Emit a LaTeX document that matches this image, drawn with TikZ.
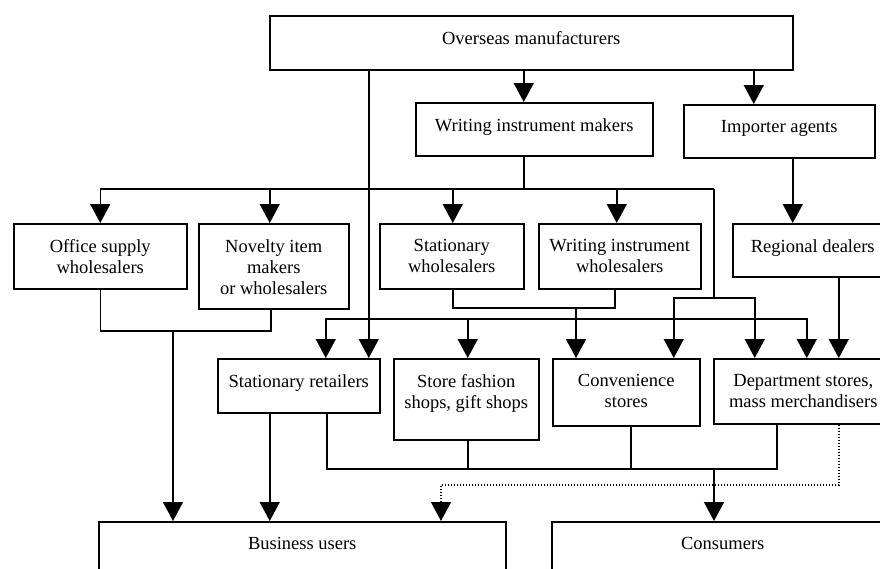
\documentclass[tikz,border=0pt]{standalone}
\usepackage{fontspec}
\setmainfont{Liberation Serif}
\usetikzlibrary{arrows.meta}

% box text: width, height, lines (set from the top of the box)
\newcommand{\boxtext}[3]{\parbox[t][#2pt][t]{#1pt}{\centering\vspace*{15.5pt}#3}}

\tikzset{
  box/.style={draw, line width=1.5pt, inner sep=0pt, anchor=north west,
              font=\fontsize{18.5}{21}\selectfont},
  wire/.style={line width=1.5pt},
  arr/.style={line width=1.5pt, -{Triangle[width=20pt,length=19pt]}},
  dotwire/.style={line width=1.5pt, dash pattern=on 1.5pt off 1.5pt,
                  -{Triangle[width=20pt,length=19pt]}}
}

\begin{document}
\begin{tikzpicture}[x=1pt,y=1pt,yscale=-1,xscale=1]
				\useasboundingbox (0,0) rectangle (880,568);
				\clip (0,0) rectangle (880,568);

				% Boxes
				\node[box] (over) at (269,15) {\boxtext{523}{54}{Overseas manufacturers}};
				\node[box] (wim) at (415,102) {\boxtext{237}{53}{Writing instrument makers}};
				\node[box] (imp) at (683,104) {\boxtext{191}{53}{Importer agents}};
				\node[box] (off) at (13,223) {\boxtext{173}{65}{Office supply\\wholesalers}};
				\node[box] (nov) at (198,223) {\boxtext{150}{85}{Novelty item\\makers\\or wholesalers}};
				\node[box] (swh) at (379,223) {\boxtext{144}{65}{Stationary\\wholesalers}};
				\node[box] (wiw) at (538,223) {\boxtext{162}{65}{Writing instrument\\wholesalers}};
				\node[box] (reg) at (732,223) {\boxtext{160}{53}{Regional dealers}};
				\node[box] (sr) at (217,358) {\boxtext{162}{54}{Stationary retailers}};
				\node[box] (sf) at (393,358) {\boxtext{145}{81}{Store fashion\\shops, gift shops}};
				\node[box] (cs) at (552,358) {\boxtext{147}{67}{Convenience\\stores}};
				\node[box] (ds) at (713,358) {\boxtext{179}{65}{Department stores,\\mass merchandisers}};
				\node[box] (bu) at (98,521) {\boxtext{407}{80}{Business users}};
				\node[box] (con) at (551,521) {\boxtext{342}{80}{Consumers}};

				% Junctions
				\coordinate (j1) at (714,189);
				\coordinate (j2) at (714,298);
				\coordinate (j3) at (173,331);
				\coordinate (j4) at (576,308);
				\coordinate (j5) at (576,319);
				\coordinate (j6) at (714,469);
				\coordinate (j7) at (441,485);

				% From overseas manufacturers
				\draw[arr] ([xshift=-10.5pt]wim.north |- over.south) -- ([xshift=-10.5pt]wim.north);
				\draw[arr] ([xshift=-25.5pt]imp.north |- over.south) -- ([xshift=-25.5pt]imp.north);
				\draw[arr] ([xshift=70pt]sr.north |- over.south) -- ([xshift=70pt]sr.north);
				\draw[arr] ([xshift=13.5pt]imp.south) -- ([xshift=13.5pt]imp.south |- reg.north);
				\draw[arr] ([xshift=26pt]reg.south) -- ([xshift=26pt]reg.south |- ds.north);

				% From writing instrument makers
				\draw[wire] ([xshift=-10.5pt]wim.south) -- ([xshift=-10.5pt]wim.south |- j1);
				\draw[arr] (j1) -| (off.north);
				\draw[arr] ([xshift=-4pt]nov.north |- j1) -- ([xshift=-4pt]nov.north);
				\draw[arr] ([xshift=1pt]swh.north |- j1) -- ([xshift=1pt]swh.north);
				\draw[arr] ([xshift=-3pt]wiw.north |- j1) -- ([xshift=-3pt]wiw.north);
				\draw[arr] (j1) -- (j2) -| ([xshift=47.5pt]cs.north);
				\draw[arr] (j2) -| ([xshift=-48.5pt]ds.north);

				% From wholesalers
				\draw[wire] (off.south) |- ([xshift=-3pt]nov.south |- j3) -- ([xshift=-3pt]nov.south);
				\draw[arr] (j3) -- (j3 |- bu.north);
				\draw[wire] ([xshift=1pt]swh.south) |- ([xshift=-5pt]wiw.south |- j4) -- ([xshift=-5pt]wiw.south);
				\draw[arr] (j4) -- (j4 |- cs.north);
				\draw[arr] (j5) -| ([xshift=27pt]sr.north);
				\draw[arr] ([xshift=1.5pt]sf.north |- j5) -- ([xshift=1.5pt]sf.north);
				\draw[arr] (j5) -| ([xshift=3.5pt]ds.north);

				% From retailers
				\draw[arr] ([xshift=-29pt]sr.south) -- ([xshift=-29pt]sr.south |- bu.north);
				\draw[wire] ([xshift=28pt]sr.south) |- ([xshift=-26.5pt]ds.south |- j6) -- ([xshift=-26.5pt]ds.south);
				\draw[wire] ([xshift=1.5pt]sf.south) -- ([xshift=1.5pt]sf.south |- j6);
				\draw[wire] ([xshift=4.5pt]cs.south) -- ([xshift=4.5pt]cs.south |- j6);
				\draw[arr] (j6) -- (j6 |- con.north);
				\draw[dotwire] ([xshift=35.5pt]ds.south) |- (j7) -- (j7 |- bu.north);

\end{tikzpicture}
\end{document}
